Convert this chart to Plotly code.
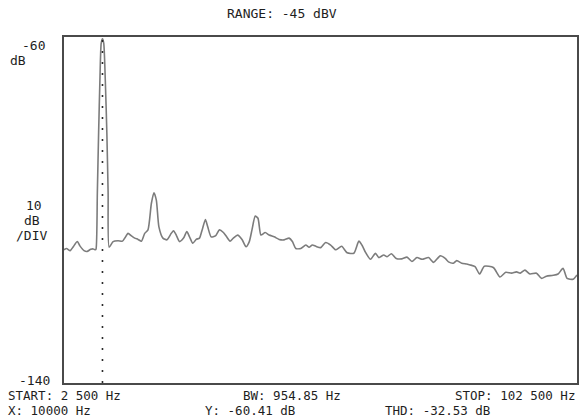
import plotly.graph_objects as go

# ---- data ----
freq_hz = [
    2500, 3000, 3700, 4300, 5100, 5600, 6400, 7000, 7700, 8200, 8600,
    8750, 9000, 9250, 9500, 9750, 10000, 10250, 10550, 10850, 11100, 11300,
    12070, 13040, 13900, 14340, 14990, 15650, 16290, 16930, 17590, 18230,
    18870, 19530, 20030, 20500, 21000, 21780, 22560, 23410, 23860, 24380,
    25020, 25800, 26440, 26970, 27610, 28270, 28910, 29430, 30070, 30520,
    31180, 32010, 32790, 33570, 34210, 34870, 35510, 36340, 37200, 37980,
    38620, 39140, 39780, 40310, 40890, 41720, 42500, 43470, 44440, 45410,
    46380, 47020, 47680, 48660, 49630, 50270, 50910, 51600, 52540, 53510,
    54480, 55450, 56620, 57700, 59000, 59980, 60620, 61280, 62250, 63220,
    63860, 64830, 65470, 66320, 67260, 68380, 69360, 70330, 71300, 72310,
    73570, 74540, 75840, 76810, 77450, 78420, 79060, 80030, 81000, 81660,
    82630, 83500, 84440, 86190, 87490, 88620, 89740, 90710, 91430, 92350,
    93320, 94600, 95570, 96540, 97840, 98810, 99780, 100560, 101720, 102500,
]
level_db = [
    -109.2, -108.9, -109.4, -108.5, -107.3, -108.3, -109.4, -109.6, -109.1, -109.0, -109.2,
    -109.0, -96.0, -82.0, -70.0, -61.5, -60.41, -61.5, -70.0, -82.0, -96.0, -108.6,
    -107.3, -107.1, -107.2, -106.5, -105.4, -106.0, -106.5, -106.8, -107.2, -105.4,
    -104.6, -98.5, -96.0, -97.7, -103.9, -106.5, -106.9, -105.4, -104.8, -105.8,
    -107.3, -106.5, -105.0, -106.2, -107.7, -106.8, -106.5, -104.6, -102.2, -103.9,
    -106.2, -106.0, -104.6, -105.2, -106.2, -107.2, -106.5, -105.8, -106.8, -108.5,
    -107.3, -104.6, -101.4, -101.9, -105.8, -105.2, -105.8, -106.2, -106.8, -106.9,
    -106.5, -107.3, -108.9, -108.9, -108.1, -108.6, -108.1, -108.4, -108.7, -107.5,
    -108.1, -109.2, -108.4, -109.9, -110.0, -107.2, -108.2, -109.8, -111.4, -110.0,
    -111.0, -110.4, -110.8, -110.1, -111.2, -111.3, -110.9, -111.9, -111.0, -111.4,
    -111.0, -112.1, -110.6, -111.2, -112.0, -112.3, -111.7, -112.3, -112.5, -112.7,
    -113.1, -114.8, -113.0, -113.3, -115.5, -114.4, -114.6, -114.3, -114.6, -113.9,
    -114.8, -114.6, -115.8, -115.3, -115.1, -114.8, -113.5, -115.8, -116.0, -115.0,
]
marker_hz = 10000
x_range = [2500, 102500]
y_range = [-140, -60]

title_text = "RANGE: -45 dBV"
top_label = "-60"
bottom_label = "-140"
unit_label = "dB"
scale_labels = ["10", "dB", "/DIV"]
footer_row1 = ["START: 2 500 Hz", "BW: 954.85 Hz", "STOP: 102 500 Hz"]
footer_row2 = ["X: 10000 Hz", "Y: -60.41 dB", "THD: -32.53 dB"]

# ---- figure ----
W, H = 580, 419
L, R, T, B = 64, 579, 37, 383  # plot area in pixels

def px(x):
    return (x - L) / (R - L)

def py(y):
    return (B - y) / (B - T)

FONT = dict(family="DejaVu Sans Mono", size=13, color="#1e1e1e")
FONT_FOOT = dict(family="DejaVu Sans Mono", size=12.5, color="#1e1e1e")

fig = go.Figure()
fig.add_trace(go.Scatter(
    x=freq_hz, y=level_db, mode="lines",
    line=dict(color="#7c7c7c", width=1.6, shape="spline", smoothing=0.6),
    hoverinfo="skip", showlegend=False,
))
fig.add_trace(go.Scatter(
    x=[marker_hz, marker_hz], y=y_range, mode="lines",
    line=dict(color="#2a2a2a", width=1.6, dash="2px,9px"),
    hoverinfo="skip", showlegend=False,
))

ann = []
def add(text, x, y, xa="left", font=FONT):
    ann.append(dict(text=text, x=px(x), y=py(y), xref="paper", yref="paper",
                    xanchor=xa, yanchor="middle", showarrow=False, font=font,
                    borderpad=0))

add(title_text, 283, 13, "center")
add(top_label, 46, 45, "right")
add(unit_label, 9, 61, "left")
add(scale_labels[0], 34, 205, "center")
add(scale_labels[1], 32, 220, "center")
add(scale_labels[2], 31, 235, "center")
add(bottom_label, 51, 380, "right")
add(footer_row1[0], 7, 395.5, "left", FONT_FOOT)
add(footer_row1[1], 293, 395.5, "center", FONT_FOOT)
add(footer_row1[2], 578, 395.5, "right", FONT_FOOT)
add(footer_row2[0], 7, 410.5, "left", FONT_FOOT)
add(footer_row2[1], 205, 410.5, "left", FONT_FOOT)
add(footer_row2[2], 385, 410.5, "left", FONT_FOOT)

fig.update_layout(
    width=W, height=H,
    margin=dict(l=L, r=W - R, t=T, b=H - B, pad=0),
    paper_bgcolor="white", plot_bgcolor="white",
    annotations=ann,
    xaxis=dict(range=x_range, showgrid=False, zeroline=False, showticklabels=False,
               ticks="", showline=True, mirror=True, linecolor="#4a4a4a", linewidth=1.5),
    yaxis=dict(range=y_range, showgrid=False, zeroline=False, showticklabels=False,
               ticks="", showline=True, mirror=True, linecolor="#4a4a4a", linewidth=1.5),
)

fig.write_html(
    "out.html",
    config={"displayModeBar": False},
    post_script="document.body.style.margin='0px';document.body.style.overflow='hidden';",
)
